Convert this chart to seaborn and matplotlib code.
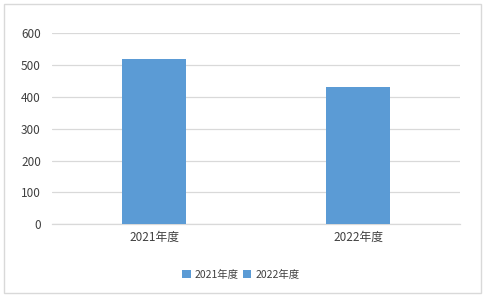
import matplotlib
matplotlib.use("Agg")
import matplotlib.pyplot as plt
import seaborn as sns
import pandas as pd
from matplotlib.patches import Rectangle

categories = ["2021年度", "2022年度"]
values = [519, 431]
yticks = [0, 100, 200, 300, 400, 500, 600]

sns.set_theme(style="white")
plt.rcParams['font.family'] = ['Noto Sans CJK SC', 'DejaVu Sans']

df = pd.DataFrame({"cat": categories, "val": values})
color = "#5b9bd5"
txt = "#404040"

fig = plt.figure(figsize=(4.85, 2.96), dpi=100)
ax = fig.add_axes([52/485, 1-224.3/296, 408/485, 191/296])
sns.barplot(data=df, x="cat", y="val", hue="cat", palette=[color, color],
            width=0.314, saturation=1, ax=ax, legend=True, zorder=3,
            linewidth=0, edgecolor="none")
ax.set_xlim(-0.5, 1.5)
ax.set_ylim(0, 600)
ax.set_yticks(yticks)
ax.set_yticklabels([str(t) for t in yticks], color=txt, fontsize=8.5)
ax.tick_params(axis='x', colors=txt, labelsize=8.5, length=0, pad=5)
ax.tick_params(axis='y', length=0, pad=8)
ax.set_xlabel("")
ax.set_ylabel("")
ax.grid(axis='y', color="#d9d9d9", lw=0.9, zorder=0)
for s in ["top", "right", "left"]:
    ax.spines[s].set_visible(False)
ax.spines["bottom"].set_color("#d9d9d9")
ax.spines["bottom"].set_linewidth(0.9)
for lab in ax.get_xticklabels():
    lab.set_color(txt)

leg = ax.legend(loc="center", bbox_to_anchor=(241/485, 1-275/296), bbox_transform=fig.transFigure,
                ncol=2, frameon=False, fontsize=7.5, handlelength=0.8, handleheight=0.8,
                handletextpad=0.4, columnspacing=0.4)
for t in leg.get_texts():
    t.set_color(txt)

fig.patches.append(Rectangle((4.5/485, 3.5/296), 476.5/485, 289/296, transform=fig.transFigure,
                             fill=False, edgecolor="#d9d9d9", lw=1))
fig.savefig("out.png", dpi=100, facecolor="white")
